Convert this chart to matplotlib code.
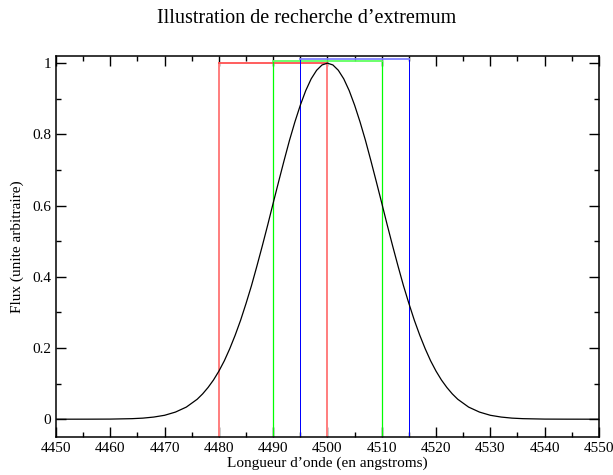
import matplotlib
matplotlib.use("Agg")
import matplotlib.pyplot as plt
from matplotlib.ticker import MultipleLocator, FuncFormatter

# Gaussian-like line profile
wavelength = [4450, 4456, 4460, 4464, 4466, 4468, 4470, 4472, 4474, 4476, 4477, 4478, 4479,
              4480, 4481, 4482, 4483, 4484, 4485, 4486, 4487, 4488, 4489, 4490,
              4491, 4492, 4493, 4494, 4495, 4496, 4497, 4498, 4499, 4500,
              4501, 4502, 4503, 4504, 4505, 4506, 4507, 4508, 4509, 4510,
              4511, 4512, 4513, 4514, 4515, 4516, 4517, 4518, 4519, 4520,
              4521, 4522, 4523, 4524, 4526, 4528, 4530, 4532, 4534, 4536, 4540, 4544, 4550]
flux = [0.0, 0.0001, 0.0003, 0.0015, 0.003, 0.006, 0.011, 0.020, 0.034, 0.056, 0.071, 0.089, 0.110,
        0.135, 0.164, 0.198, 0.236, 0.278, 0.325, 0.375, 0.430, 0.487, 0.546, 0.607,
        0.667, 0.726, 0.783, 0.835, 0.882, 0.923, 0.956, 0.980, 0.995, 1.0,
        0.995, 0.980, 0.956, 0.923, 0.882, 0.835, 0.783, 0.726, 0.667, 0.607,
        0.546, 0.487, 0.430, 0.375, 0.325, 0.278, 0.236, 0.198, 0.164, 0.135,
        0.110, 0.089, 0.071, 0.056, 0.034, 0.020, 0.011, 0.006, 0.003, 0.0015, 0.0003, 0.0001, 0.0]

# Search brackets: (left, right, level, colour)
bracket_left = [4480, 4490, 4495]
bracket_right = [4500, 4510, 4515]
bracket_level = [1.0, 1.005, 1.011]
bracket_colors = ["#ff8080", "#00ff00", "#0000ff"]
bracket_hcolors = ["#ff5050", "#60ff60", "#8080ff"]
bracket_widths = [1.44, 0.9, 0.72]

plt.rcParams['font.family'] = ['Liberation Serif', 'DejaVu Serif']

fig = plt.figure(figsize=(6.13, 4.75), dpi=100)
ax = fig.add_axes([0.0914, 0.080, 0.8856, 0.802])

ymin, ymax = -0.05, 1.02
for xl, xr, lv, c, hc, w in zip(bracket_left, bracket_right, bracket_level, bracket_colors,
                                bracket_hcolors, bracket_widths):
    ax.plot([xl, xl], [ymin, lv], color=c, lw=w, zorder=2)
    ax.plot([xr, xr], [ymin, lv], color=c, lw=w, zorder=2)
    ax.plot([xl, xr], [lv, lv], color=hc, lw=1.3, zorder=2)

ax.plot(wavelength, flux, color="black", lw=0.9, zorder=3)

ax.set_xlim(4450, 4550)
ax.set_ylim(ymin, ymax)
ax.xaxis.set_major_locator(MultipleLocator(10))
ax.xaxis.set_minor_locator(MultipleLocator(5))
ax.yaxis.set_major_locator(MultipleLocator(0.2))
ax.yaxis.set_minor_locator(MultipleLocator(0.1))
ax.yaxis.set_major_formatter(FuncFormatter(lambda v, p: f"{v:.1f}".rstrip('0').rstrip('.') if abs(v) > 1e-9 else "0"))
ax.tick_params(which='both', direction='in', top=True, right=True, labelsize=11, width=1.0)
ax.tick_params(which='major', length=7)
ax.tick_params(which='minor', length=3.5)
for s in ax.spines.values():
    s.set_linewidth(1.1)

ax.set_xlabel("Longueur d\u2019onde (en angstroms)", fontsize=11, labelpad=1.5)
ax.set_ylabel("Flux (unite arbitraire)", fontsize=11, labelpad=6)
fig.text(0.5, 0.962, "Illustration de recherche d\u2019extremum", ha='center', va='center', fontsize=14.5)

fig.savefig("out.png", dpi=100)
